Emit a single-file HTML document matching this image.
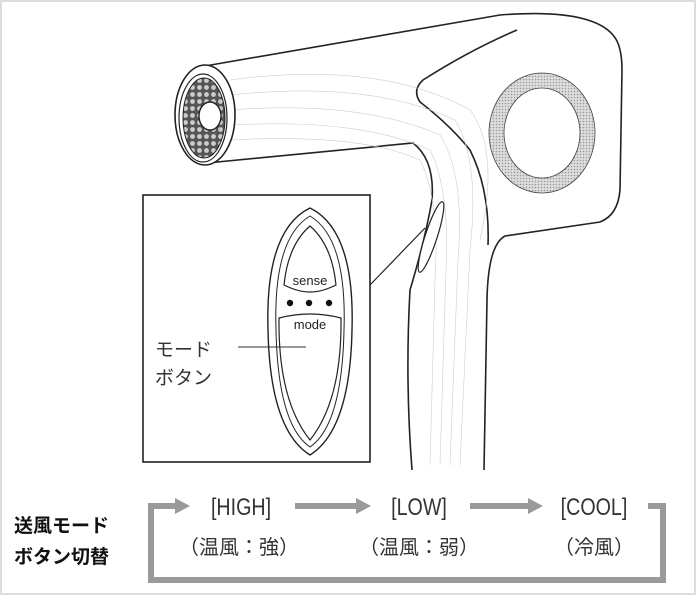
<!DOCTYPE html>
<html><head><meta charset="utf-8"><style>
html,body{margin:0;padding:0;background:#fff}
svg{display:block}
text{font-family:"Liberation Sans","Noto Sans CJK JP",sans-serif}
</style></head><body>
<svg width="696" height="595" viewBox="0 0 696 595" xmlns="http://www.w3.org/2000/svg">
<defs>
<pattern id="hex" width="7" height="7" patternUnits="userSpaceOnUse">
<rect width="7" height="7" fill="#555"/><circle cx="3.5" cy="3.5" r="2.4" fill="#ccc"/>
</pattern>
<pattern id="dot" width="3" height="3" patternUnits="userSpaceOnUse">
<rect width="3" height="3" fill="#ddd"/><circle cx="1.5" cy="1.5" r="0.8" fill="#999"/>
</pattern>
</defs>
<rect x="1" y="1" width="694" height="593" fill="#fff" stroke="#ddd" stroke-width="2"/>
<g fill="none" stroke="#222" stroke-width="1.6">
<path d="M205,66 L500,15 Q590,8 613,35 Q622,45 622,70 L620,190 Q618,215 600,222 Q560,228 505,236 Q488,245 487,300 L484,470" fill="#fff"/>
<path d="M207,163 L413,143 Q435,160 432,200 Q425,240 410,290 Q405,380 412,470" />
<path d="M517,30 Q470,50 423,80 Q412,90 420,102 Q450,125 470,150 Q490,190 488,245"/>
</g>
<g fill="none" stroke="#ccc" stroke-width="0.6">
<path d="M230,80 Q380,60 470,110 Q500,150 480,240"/>
<path d="M230,95 Q370,80 455,120 Q480,160 470,250 L460,465"/>
<path d="M230,110 Q360,100 440,135 Q465,175 458,260 L450,465"/>
<path d="M230,125 Q360,118 430,150 Q450,190 446,270 L440,465"/>
<path d="M230,140 Q360,133 420,160 Q440,200 435,280 L430,465"/>
</g>
<ellipse cx="205" cy="115" rx="30" ry="50" fill="#fff" stroke="#222" stroke-width="1.6"/>
<ellipse cx="203" cy="118" rx="24" ry="44" fill="none" stroke="#222" stroke-width="1.2"/>
<ellipse cx="204" cy="118" rx="21" ry="40" fill="url(#hex)" stroke="#222"/>
<ellipse cx="210" cy="116" rx="11" ry="14" fill="#fff" stroke="#222" stroke-width="1.4"/>
<path fill-rule="evenodd" fill="url(#dot)" stroke="#444" stroke-width="0.8" d="M489,133 a53,60 0 1,0 106,0 a53,60 0 1,0 -106,0 Z M504,133 a38,45 0 1,0 76,0 a38,45 0 1,0 -76,0 Z"/>
<ellipse cx="431" cy="237" rx="6" ry="37" transform="rotate(18 431 237)" fill="#fff" stroke="#222" stroke-width="1.2"/>
<line x1="370" y1="285" x2="425" y2="228" stroke="#222" stroke-width="1.2"/>
<rect x="143" y="195" width="227" height="267" fill="#fff" stroke="#222" stroke-width="1.6"/>
<path d="M310,208 Q355,230 352,330 Q350,430 310,455 Q270,430 268,330 Q265,230 310,208 Z" fill="#fff" stroke="#222" stroke-width="1.4"/>
<path d="M310,216 Q347,238 344,330 Q342,425 310,447 Q278,425 276,330 Q273,238 310,216 Z" fill="none" stroke="#222" stroke-width="1"/>
<path d="M310,226 Q332,245 336,285 Q322,292 310,292 Q298,292 284,285 Q288,245 310,226 Z" fill="none" stroke="#222" stroke-width="1.2"/>
<text x="310" y="285" font-size="13" text-anchor="middle" fill="#222">sense</text>
<circle cx="290" cy="303" r="3.2" fill="#111"/><circle cx="309" cy="303" r="3.2" fill="#111"/><circle cx="329" cy="303" r="3.2" fill="#111"/>
<path d="M279,318 Q310,310 341,318 Q342,400 310,440 Q278,400 279,318 Z" fill="none" stroke="#222" stroke-width="1.2"/>
<text x="310" y="329" font-size="13" text-anchor="middle" fill="#222">mode</text>
<line x1="238" y1="347" x2="306" y2="347" stroke="#333" stroke-width="1"/>
<text x="155" y="356" font-size="19" fill="#333">モード</text>
<text x="155" y="384" font-size="19" fill="#333">ボタン</text>
<text x="14" y="532" font-size="19" font-weight="bold" fill="#111">送風モード</text>
<text x="14" y="563" font-size="19" font-weight="bold" fill="#111">ボタン切替</text>
<g stroke="#9a9a9a" stroke-width="6" fill="none">
<path d="M178,506 L151,506 L151,580 L663,580 L663,506 L648,506"/>
<line x1="295" y1="506" x2="358" y2="506"/>
<line x1="470" y1="506" x2="530" y2="506"/>
</g>
<g fill="#9a9a9a">
<polygon points="175,498 190,506 175,514"/>
<polygon points="356,498 371,506 356,514"/>
<polygon points="528,498 543,506 528,514"/>
</g>
<g font-size="24" fill="#333" text-anchor="middle">
<text transform="translate(241,515) scale(0.82,1)">[HIGH]</text>
<text transform="translate(419,515) scale(0.82,1)">[LOW]</text>
<text transform="translate(594,515) scale(0.82,1)">[COOL]</text>
<text x="239" y="554" font-size="20">（温風：強）</text>
<text x="419" y="554" font-size="20">（温風：弱）</text>
<text x="594" y="554" font-size="20">（冷風）</text>
</g>
</svg>
</body></html>
